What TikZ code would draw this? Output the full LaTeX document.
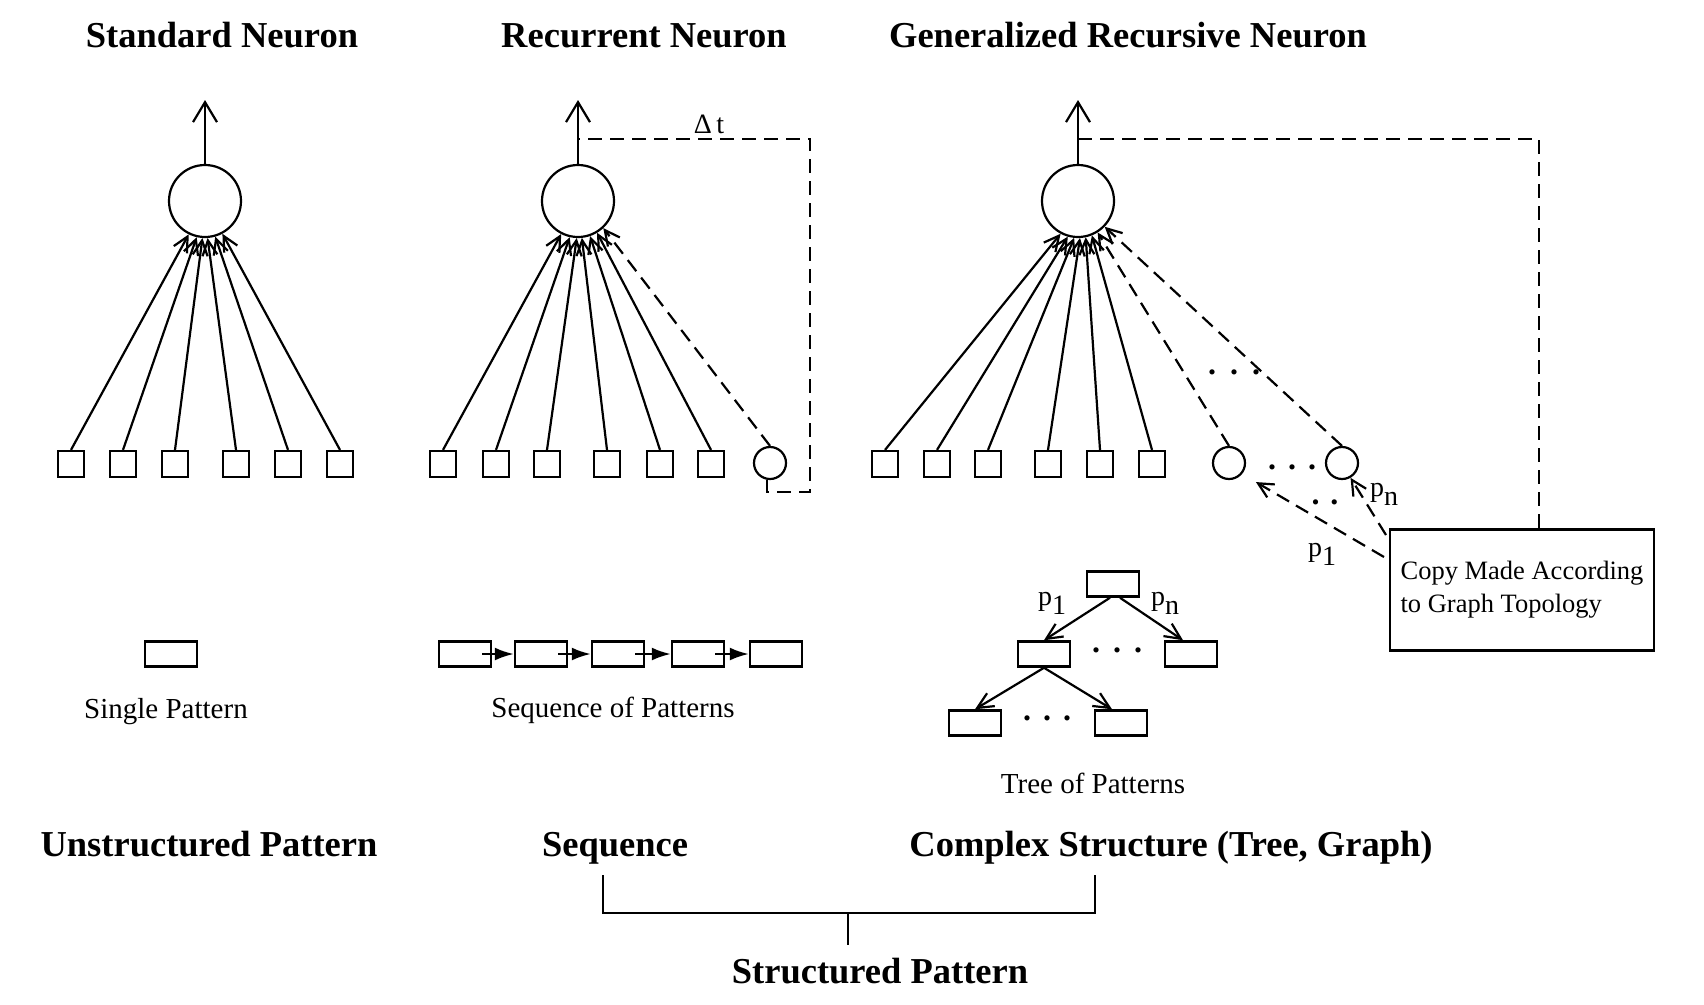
\documentclass[tikz,border=0pt]{standalone}
\usepackage{fontspec}
\setmainfont{Liberation Serif}
\usetikzlibrary{arrows.meta,calc}
\begin{document}
\begin{tikzpicture}[x=1pt,y=-1pt,line width=2.2pt,
  neuron/.style={circle,draw,minimum size=72pt,inner sep=0pt},
  inbox/.style={rectangle,draw,minimum width=26pt,minimum height=26pt,inner sep=0pt},
  ctxc/.style={circle,draw,minimum size=32pt,inner sep=0pt},
  patbox/.style={rectangle,draw,line width=2.5pt,minimum width=52pt,minimum height=25pt,inner sep=0pt},
  inarrow/.style={-{Straight Barb[length=15pt,width=15pt]}},
  outarrow/.style={-{Straight Barb[length=20pt,width=24pt]}},
  fbline/.style={dash pattern=on 14pt off 8pt},
  treearrow/.style={-{Straight Barb[length=16pt,width=15pt]}},
  seqarrow/.style={-{Latex[length=19pt,width=13pt]}},
  titletext/.style={font=\fontsize{36.5}{40}\selectfont\bfseries,anchor=base,inner sep=0pt},
  smalltext/.style={font=\fontsize{29}{34}\selectfont,anchor=base,inner sep=0pt},
  dotstext/.style={font=\fontsize{32}{32}\selectfont\bfseries,inner sep=0pt},
  plabel/.style={font=\fontsize{28}{30}\selectfont,inner sep=0pt}]
\useasboundingbox (0,0) rectangle (1704,1004);

% titles
\node[titletext] (t1) at (222,47) {Standard Neuron};
\node[titletext] (t2) at (644,47) {Recurrent Neuron};
\node[titletext] (t3) at (1128,47) {Generalized Recursive Neuron};

% ---------- Standard neuron
\node[neuron] (n1) at (205,201) {};
\coordinate (o1) at (205,100);
\draw[outarrow] (n1.north) -- (o1);
\foreach \i/\x in {1/71,2/123,3/175,4/236,5/288,6/340}
  \node[inbox] (s1\i) at (\x,464) {};
\foreach \i/\a in {1/244,2/257,3/266,4/274,5/286,6/298}
  \draw[inarrow] (s1\i.north) -- (n1.\a);

% ---------- Recurrent neuron
\node[neuron] (n2) at (578,201) {};
\coordinate (o2) at (578,100);
\draw[outarrow] (n2.north) -- (o2);
\foreach \i/\x in {1/443,2/496,3/547,4/607,5/660,6/711}
  \node[inbox] (s2\i) at (\x,464) {};
\node[ctxc] (c1) at (770,463) {};
\foreach \i/\a in {1/243,2/257,3/268,4/276,5/289,6/301}
  \draw[inarrow] (s2\i.north) -- (n2.\a);
\draw[inarrow,fbline] (c1.north) -- (n2.313);
\coordinate (f1) at (578,139);
\coordinate (rt) at (810,139);
\coordinate (rb) at (810,492);
\draw[fbline] ([xshift=-3pt]c1.south) |- (rb) -- (rt) -- (f1);
\node[plabel,anchor=base] (dt) at (709,133) {Δ\,t};

% ---------- Generalized recursive neuron
\node[neuron] (n3) at (1078,201) {};
\coordinate (o3) at (1078,100);
\draw[outarrow] (n3.north) -- (o3);
\foreach \i/\x in {1/885,2/937,3/988,4/1048,5/1100,6/1152}
  \node[inbox] (s3\i) at (\x,464) {};
\node[ctxc] (c2a) at (1229,463) {};
\node[ctxc] (c2b) at (1342,463) {};
\foreach \i/\a in {1/242,2/254,3/264,4/273,5/282,6/292}
  \draw[inarrow] (s3\i.north) -- (n3.\a);
\draw[inarrow,fbline] (c2a.north) -- (n3.302);
\draw[inarrow,fbline] (c2b.north) -- (n3.316);
\node[dotstext] (d1) at (1234,372) {.\kern14pt.\kern14pt.};
\node[dotstext] (d2) at (1292,467) {.\kern12pt.\kern12pt.};
\node[dotstext] (d3) at (1325,502) {.\kern11pt.};

\node[draw,line width=2.5pt,minimum width=264pt,minimum height=121pt,inner sep=0pt,
  align=left,font=\fontsize{26.5}{33}\selectfont] (box) at (1522,590)
  {Copy Made According\\to Graph Topology};
\coordinate (f2) at (1078,139);
\coordinate (gt) at (1539,139);
\draw[fbline] (f2) -- (gt) -- (gt |- box.north);
\coordinate (bA) at (1384,557);
\coordinate (bB) at (1386,535);
\draw[inarrow,fbline,shorten >=16pt] (bA) -- (c2a.320);
\draw[inarrow,fbline] (bB) -- (c2b.300);
\node[plabel] (p1a) at (1322,554) {p\raisebox{-9pt}{1}};
\node[plabel] (pna) at (1384,494) {p\raisebox{-9pt}{n}};

% ---------- patterns
\node[patbox] (sp1) at (171,654) {};
\node[smalltext] (lsp) at (166,718) {Single Pattern};

\node[patbox] (q1) at (465,654) {};
\node[patbox] (q2) at (541,654) {};
\node[patbox] (q3) at (618,654) {};
\node[patbox] (q4) at (698,654) {};
\node[patbox] (q5) at (776,654) {};
\foreach \a/\b in {q1/q2,q2/q3,q3/q4,q4/q5}
  \draw[seqarrow] ([xshift=-10pt]\a.east) -- (\b.west);
\node[smalltext] (lsq) at (613,717) {Sequence of Patterns};

\node[patbox] (tr) at (1113,584) {};
\node[patbox] (tml) at (1044,654) {};
\node[patbox] (tmr) at (1191,654) {};
\node[patbox] (tbl) at (975,723) {};
\node[patbox] (tbr) at (1121,723) {};
\draw[treearrow] ([xshift=-3pt]tr.south) -- (tml.north);
\draw[treearrow] ([xshift=7pt]tr.south) -- ([xshift=-8pt]tmr.north);
\draw[treearrow] (tml.south) -- (tbl.north);
\draw[treearrow] (tml.south) -- ([xshift=-9pt]tbr.north);
\node[plabel] (p1t) at (1052,603) {p\raisebox{-9pt}{1}};
\node[plabel] (pnt) at (1165,603) {p\raisebox{-9pt}{n}};
\node[dotstext] (d4) at (1117,650) {.\kern13pt.\kern13pt.};
\node[dotstext] (d5) at (1047,718) {.\kern12pt.\kern12pt.};
\node[smalltext] (ltr) at (1093,793) {Tree of Patterns};

% ---------- bottom labels
\node[titletext] (up) at (209,856) {Unstructured Pattern};
\node[titletext] (sq) at (615,856) {Sequence};
\node[titletext] (cs) at (1171,856) {Complex Structure (Tree, Graph)};
\node[titletext] (stp) at (880,983) {Structured Pattern};
\coordinate (bkL) at (603,875);
\coordinate (bkR) at (1095,875);
\coordinate (bkM) at (848,913);
\coordinate (bkS) at (848,945);
\draw (bkL) -- (bkL |- bkM) -- (bkR |- bkM) -- (bkR);
\draw (bkM) -- (bkS);
\end{tikzpicture}
\end{document}
